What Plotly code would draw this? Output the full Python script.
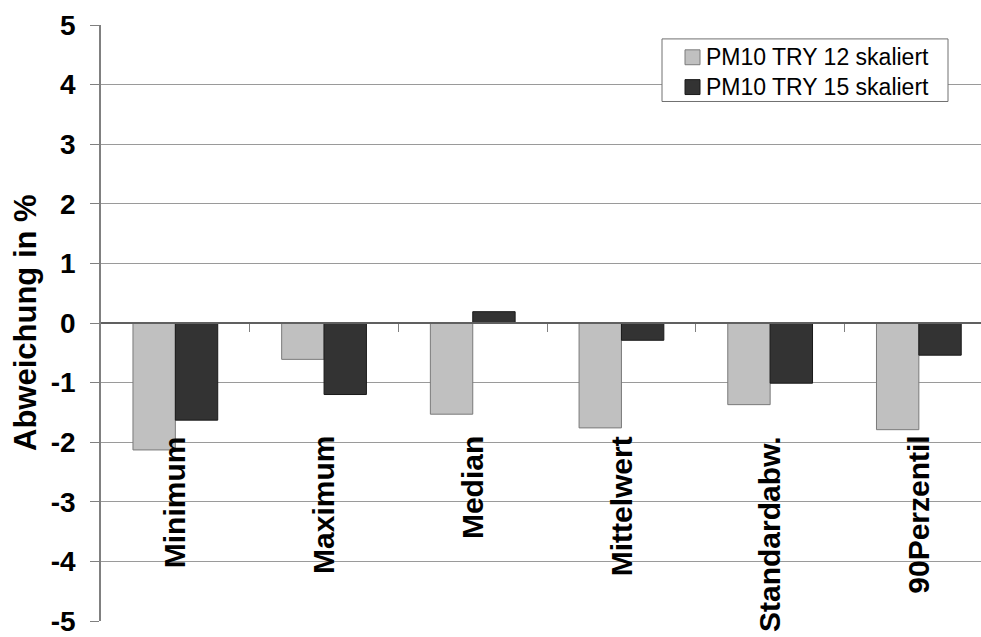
import plotly.graph_objects as go

categories = ["Minimum", "Maximum", "Median", "Mittelwert", "Standardabw.", "90Perzentil"]
try12 = [-2.13, -0.61, -1.53, -1.76, -1.37, -1.79]
try15 = [-1.63, -1.20, 0.19, -0.29, -1.01, -0.54]
series_names = ["PM10 TRY 12 skaliert", "PM10 TRY 15 skaliert"]
series_colors = ["#c0c0c0", "#333333"]
series_edges = ["#7a7a7a", "#1a1a1a"]
y_ticks = [5, 4, 3, 2, 1, 0, -1, -2, -3, -4, -5]

FONT = "Liberation Sans, Arial, sans-serif"
xpos = list(range(len(categories)))

# plot-area pixel geometry
L, T, W, H = 101, 25, 880, 600


def px_x(p):
    return (p - L) / W


def px_y(p):
    return (T + H - p) / H


fig = go.Figure()
for vals, name, col, edge in zip([try12, try15], series_names, series_colors, series_edges):
    fig.add_trace(go.Bar(x=xpos, y=vals, name=name, showlegend=False,
                         marker=dict(color=col, line=dict(color=edge, width=1))))

for i, c in enumerate(categories):
    fig.add_annotation(x=i, y=-1.86, xref="x", yref="y", text=c, textangle=-90,
                       showarrow=False, xanchor="center", yanchor="top",
                       font=dict(family=FONT, size=30, color="#000000", weight="bold"))

fig.add_annotation(x=0, y=0, xref="paper", yref="y", text="Abweichung in %",
                   textangle=-90, showarrow=False, xanchor="center", yanchor="middle",
                   xshift=-76,
                   font=dict(family=FONT, size=31, color="#000000", weight="bold"))

# legend box (drawn manually to match the original's compact box)
fig.add_shape(type="rect", xref="paper", yref="paper",
              x0=px_x(662), x1=px_x(948), y0=px_y(102), y1=px_y(39),
              line=dict(color="#707070", width=1), fillcolor="white", layer="above")
for k, (name, col, edge) in enumerate(zip(series_names, series_colors, series_edges)):
    cy = 57.5 + 30 * k
    fig.add_shape(type="rect", xref="paper", yref="paper",
                  x0=px_x(685), x1=px_x(700), y0=px_y(cy + 7.5), y1=px_y(cy - 7.5),
                  line=dict(color=edge, width=1), fillcolor=col, layer="above")
    fig.add_annotation(x=px_x(704), y=px_y(cy), xref="paper", yref="paper", text=name,
                       showarrow=False, xanchor="left", yanchor="middle",
                       font=dict(family=FONT, size=23, color="#000000"))

fig.update_layout(
    width=981, height=637,
    margin=dict(l=L, r=0, t=T, b=637 - T - H),
    paper_bgcolor="white", plot_bgcolor="white",
    barmode="group", bargap=0.43, bargroupgap=0,
    showlegend=False,
    xaxis=dict(range=[-0.5, -0.5 + W / 148.7], anchor="free", position=0.5,
               tickmode="array", tickvals=[i + 0.5 for i in xpos],
               ticktext=["" for _ in xpos], ticks="outside", ticklen=8,
               tickcolor="#808080", showline=True, linecolor="#606060", linewidth=1.5,
               showgrid=False, zeroline=False),
    yaxis=dict(range=[-5, 5], tickmode="array", tickvals=y_ticks,
               ticktext=[str(v) for v in y_ticks], ticks="outside", ticklen=9,
               tickcolor="#808080", showline=True, linecolor="#808080", linewidth=1.5,
               showgrid=True, gridcolor="#9a9a9a", gridwidth=1,
               zeroline=False, ticklabelstandoff=9, ticklabeloverflow="allow",
               tickfont=dict(family=FONT, size=28, color="#000000", weight="bold")),
)

fig.write_html("out.html", config={"displayModeBar": False},
               post_script="document.body.style.margin='0';document.body.style.overflow='hidden';")
